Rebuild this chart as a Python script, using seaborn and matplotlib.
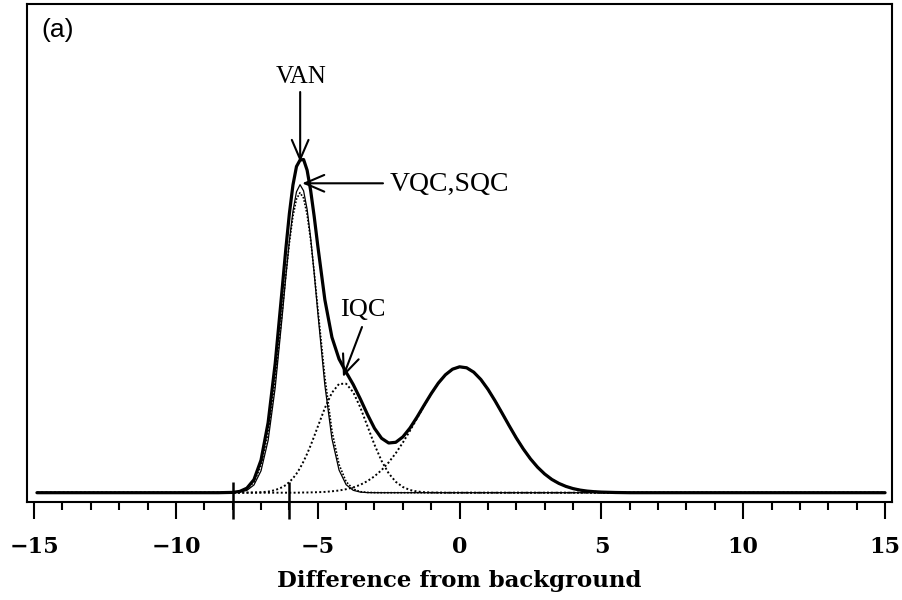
import matplotlib
matplotlib.use("Agg")
import matplotlib.pyplot as plt
import seaborn as sns
import pandas as pd
from matplotlib.ticker import MultipleLocator, FixedLocator

# ---------------- data ----------------
x_values = [-14.9, -10.0, -8.5, -8.0, -7.75, -7.5, -7.25, -7.0, -6.75, -6.5,
            -6.25, -6.125, -6.0, -5.875, -5.75, -5.625, -5.5, -5.375, -5.25, -5.125,
            -5.0, -4.75, -4.5, -4.25,
            -4.0, -3.75, -3.5, -3.25, -3.0, -2.75, -2.5, -2.25, -2.0, -1.75,
            -1.5, -1.25, -1.0, -0.75, -0.5, -0.25, 0.0, 0.25, 0.5, 0.75,
            1.0, 1.25, 1.5, 1.75, 2.0, 2.25, 2.5, 2.75, 3.0, 3.25,
            3.5, 3.75, 4.0, 4.25, 4.5, 4.75, 5.0, 5.5, 6.0, 7.0,
            10.0, 15.0]

total_van = [0.0, 0.0, 0.0, 0.3, 1.3, 4.5, 13.0, 32.6, 70.1, 129.4,
             205.1, 243.9, 279.2, 307.6, 326.2, 332.6, 333.2, 322.5, 302.1, 276.1,
             247.1, 193.0, 155.4, 133.7,
             120.5, 108.2, 93.8, 78.4, 64.4, 54.4, 49.7, 50.4, 55.8, 64.6,
             75.6, 87.5, 99.1, 109.6, 117.9, 123.5, 125.9, 124.9, 120.5, 113.2,
             103.4, 91.9, 79.5, 66.9, 54.7, 43.6, 33.8, 25.5, 18.7, 13.3,
             9.3, 6.3, 4.1, 2.6, 1.6, 1.0, 0.6, 0.2, 0.0, 0.0,
             0.0, 0.0]

comp_vqc = [0.0, 0.0, 0.0, 0.1, 0.6, 2.3, 7.7, 21.9, 52.3, 105.1,
            177.5, 216.1, 252.0, 281.4, 300.9, 308.0, 301.9, 283.4, 254.7, 219.2,
            180.6, 107.6, 54.0, 22.7,
            8.0, 2.4, 0.6, 0.1, 0.0, 0.0, 0.0, 0.0, 0.0, 0.0,
            0.0, 0.0, 0.0, 0.0, 0.0, 0.0, 0.0, 0.0, 0.0, 0.0,
            0.0, 0.0, 0.0, 0.0, 0.0, 0.0, 0.0, 0.0, 0.0, 0.0,
            0.0, 0.0, 0.0, 0.0, 0.0, 0.0, 0.0, 0.0, 0.0, 0.0,
            0.0, 0.0]

comp_sqc = [0.0, 0.0, 0.0, 0.2, 1.0, 3.5, 10.6, 27.2, 60.0, 113.1,
            182.0, 217.6, 250.1, 276.4, 293.7, 300.0, 294.6, 278.2, 252.5, 220.3,
            184.8, 115.6, 61.8, 28.2,
            11.0, 3.7, 1.0, 0.3, 0.1, 0.0, 0.0, 0.0, 0.0, 0.0,
            0.0, 0.0, 0.0, 0.0, 0.0, 0.0, 0.0, 0.0, 0.0, 0.0,
            0.0, 0.0, 0.0, 0.0, 0.0, 0.0, 0.0, 0.0, 0.0, 0.0,
            0.0, 0.0, 0.0, 0.0, 0.0, 0.0, 0.0, 0.0, 0.0, 0.0,
            0.0, 0.0]

comp_iqc = [0.0, 0.0, 0.0, 0.0, 0.0, 0.1, 0.2, 0.5, 1.1, 2.6,
            5.5, 7.7, 10.7, 14.4, 19.0, 24.6, 31.3, 38.9, 47.3, 56.5,
            66.0, 84.6, 100.0, 108.8,
            109.0, 100.5, 85.3, 66.7, 48.0, 31.8, 19.4, 10.9, 5.7, 2.7,
            1.2, 0.5, 0.2, 0.1, 0.0, 0.0, 0.0, 0.0, 0.0, 0.0,
            0.0, 0.0, 0.0, 0.0, 0.0, 0.0, 0.0, 0.0, 0.0, 0.0,
            0.0, 0.0, 0.0, 0.0, 0.0, 0.0, 0.0, 0.0, 0.0, 0.0,
            0.0, 0.0]

comp_background = [0.0, 0.0, 0.0, 0.0, 0.0, 0.0, 0.0, 0.0, 0.0, 0.0,
                   0.0, 0.0, 0.0, 0.0, 0.0, 0.1, 0.2, 0.2, 0.3, 0.4,
                   0.5, 0.8, 1.4, 2.2,
                   3.5, 5.3, 7.9, 11.6, 16.4, 22.6, 30.3, 39.5, 50.1, 61.9,
                   74.4, 87.0, 98.9, 109.5, 117.9, 123.5, 125.9, 124.9, 120.5, 113.2,
                   103.4, 91.9, 79.5, 66.9, 54.7, 43.6, 33.8, 25.5, 18.7, 13.3,
                   9.3, 6.3, 4.1, 2.6, 1.6, 1.0, 0.6, 0.2, 0.0, 0.0,
                   0.0, 0.0]

cut_positions = [-8.0, -6.0]
x_ticks = [-15, -10, -5, 0, 5, 10, 15]
x_tick_labels = ["\u221215", "\u221210", "\u22125", "0", "5", "10", "15"]
x_label = "Difference from background"
panel_label = "(a)"

# ---------------- figure ----------------
sns.set_theme(style="ticks")
plt.rcParams["font.family"] = ["DejaVu Serif", "DejaVu Sans"]
plt.rcParams["text.color"] = "black"
plt.rcParams["axes.labelcolor"] = "black"
plt.rcParams["xtick.color"] = "black"
plt.rcParams["xtick.labelcolor"] = "black"

W, H = 902, 600
fig = plt.figure(figsize=(W / 100, H / 100), dpi=100)
ax_l, ax_r, ax_t, ax_b = 27.3, 892.0, 4.0, 501.7
ax = fig.add_axes([ax_l / W, 1 - ax_b / H, (ax_r - ax_l) / W, (ax_b - ax_t) / H])

df = pd.DataFrame({
    "x": x_values,
    "VAN": total_van,
    "VQC": comp_vqc,
    "SQC": comp_sqc,
    "IQC": comp_iqc,
    "background": comp_background,
})
long = df.melt(id_vars="x", var_name="curve", value_name="y")

styles = {
    "background": dict(lw=1.4, ls=(0, (1, 1.2))),
    "IQC": dict(lw=1.4, ls=(0, (1, 1.2))),
    "SQC": dict(lw=1.2, ls=(0, (1, 1.0))),
    "VQC": dict(lw=0.9, ls="-"),
    "VAN": dict(lw=2.3, ls="-"),
}
for name, st in styles.items():
    sns.lineplot(data=long[long["curve"] == name], x="x", y="y", ax=ax,
                 color="black", linewidth=st["lw"], linestyle=st["ls"],
                 estimator=None, sort=True, legend=False,
                 solid_joinstyle="round", solid_capstyle="round")

ax.set_xlim(-15.24, 15.245)
ax.set_ylim(-9, 488.7)

# cut markers crossing the baseline and the bottom frame
ax.vlines(cut_positions, ymin=-26.5, ymax=10.7, color="black", lw=1.8,
          clip_on=False, zorder=5)

# axes styling
for sp in ax.spines.values():
    sp.set_linewidth(1.5)
    sp.set_color("black")
ax.set_yticks([])
ax.set_ylabel("")
ax.xaxis.set_major_locator(FixedLocator(x_ticks))
ax.xaxis.set_minor_locator(MultipleLocator(1))
ax.set_xticklabels(x_tick_labels, fontsize=16, fontweight="bold",
                   family="DejaVu Serif", color="black")
ax.tick_params(axis="x", which="major", length=12, width=1.5, direction="out",
               pad=13, color="black", bottom=True, top=False)
ax.tick_params(axis="x", which="minor", length=5.5, width=1.5, direction="out",
               color="black", bottom=True, top=False)
ax.set_xlabel(x_label, fontsize=16.5, fontweight="bold", family="DejaVu Serif",
              labelpad=8, color="black")

# annotations
serif = "Liberation Serif"
arrow_style = "->,head_length=0.7,head_width=0.3"
ax.text(-5.60, 416, "VAN", ha="center", va="center", fontsize=18,
        family=serif, color="black")
ax.annotate("", xy=(-5.62, 330.7), xytext=(-5.62, 400.7),
            arrowprops=dict(arrowstyle=arrow_style, mutation_scale=20,
                            lw=1.5, color="black", shrinkA=0, shrinkB=0))
ax.text(-2.45, 308.5, "VQC,SQC", ha="left", va="center", fontsize=20,
        family=serif, color="black")
ax.annotate("", xy=(-5.55, 309.4), xytext=(-2.70, 309.4),
            arrowprops=dict(arrowstyle=arrow_style, mutation_scale=20,
                            lw=1.5, color="black", shrinkA=0, shrinkB=0))
ax.text(-3.40, 182.7, "IQC", ha="center", va="center", fontsize=19,
        family=serif, color="black")
ax.annotate("", xy=(-4.11, 115.7), xytext=(-3.44, 165.7),
            arrowprops=dict(arrowstyle=arrow_style, mutation_scale=20,
                            lw=1.5, color="black", shrinkA=0, shrinkB=0))

fig.text(41 / W, 1 - 29.5 / H, panel_label, ha="left", va="center",
         fontsize=19, family="Liberation Sans", color="black")

fig.savefig("out.png", dpi=100, facecolor="white")
